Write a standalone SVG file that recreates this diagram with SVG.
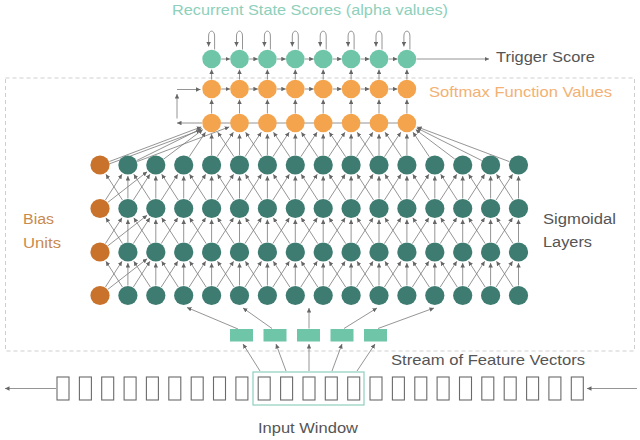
<svg xmlns="http://www.w3.org/2000/svg" xmlns:xlink="http://www.w3.org/1999/xlink" width="640" height="440" viewBox="0 0 640 440">
<style>
.txt{font-family:"Liberation Sans","Noto Sans",Arial,sans-serif}
.sig{fill:#3e7c71}
.bias{fill:#c9722b}
.soft{fill:#f4a44c}
.rec{fill:#6fc5a7}
.feat{fill:#6fc5a7}
.box{fill:none;stroke:#6a6a6a;stroke-width:1.1}
</style>
<defs>
<marker id="ah" viewBox="0 0 6 6" refX="6" refY="3" markerWidth="4.5" markerHeight="4.5" markerUnits="userSpaceOnUse" orient="auto">
<path d="M0,0 L6,3 L0,6 z" fill="#666" stroke="none"/>
</marker>
<line id="v" x1="0" y1="-10" x2="0" y2="-32.5"/>
<line id="dr" x1="5.4" y1="-8.4" x2="22" y2="-34.2"/>
<line id="dl" x1="-5.4" y1="-8.4" x2="-22" y2="-34.2"/>
<line id="vT" x1="0" y1="-10" x2="0" y2="-31"/>
<line id="drT" x1="5.5" y1="-8.3" x2="21.8" y2="-32.8"/>
<line id="dlT" x1="-5.5" y1="-8.3" x2="-21.8" y2="-32.8"/>
<line id="h" x1="9.6" y1="0" x2="18.4" y2="0"/>
<line id="vsa" x1="0" y1="-9.5" x2="0" y2="-23.5"/>
<line id="vsb" x1="0" y1="-9.5" x2="0" y2="-19.5"/>
<path id="loop" d="M3,-9.5 L3,-23 C3,-29.5 -3,-29.5 -3,-23 L-3,-12.5"/>
<g id="gap">
<use href="#dr" x="100"/><use href="#dr" x="127.9"/><use href="#dr" x="155.8"/><use href="#dr" x="183.7"/>
<use href="#dr" x="211.6"/><use href="#dr" x="239.5"/><use href="#dr" x="267.4"/><use href="#dr" x="295.3"/>
<use href="#dr" x="323.2"/><use href="#dr" x="351.1"/><use href="#dr" x="379"/><use href="#dr" x="406.9"/>
<use href="#dr" x="434.8"/><use href="#dr" x="462.7"/><use href="#dr" x="490.6"/>
<use href="#dl" x="127.9"/><use href="#dl" x="155.8"/><use href="#dl" x="183.7"/><use href="#dl" x="211.6"/>
<use href="#dl" x="239.5"/><use href="#dl" x="267.4"/><use href="#dl" x="295.3"/><use href="#dl" x="323.2"/>
<use href="#dl" x="351.1"/><use href="#dl" x="379"/><use href="#dl" x="406.9"/><use href="#dl" x="434.8"/>
<use href="#dl" x="462.7"/><use href="#dl" x="490.6"/><use href="#dl" x="518.5"/>
<use href="#v" x="127.9"/><use href="#v" x="155.8"/><use href="#v" x="183.7"/><use href="#v" x="211.6"/>
<use href="#v" x="239.5"/><use href="#v" x="267.4"/><use href="#v" x="295.3"/><use href="#v" x="323.2"/>
<use href="#v" x="351.1"/><use href="#v" x="379"/><use href="#v" x="406.9"/><use href="#v" x="434.8"/>
<use href="#v" x="462.7"/><use href="#v" x="490.6"/><use href="#v" x="518.5"/>
<line x1="107.9" y1="-6.2" x2="147.1" y2="-36.7"/>
</g>
</defs>

<rect id="frame" x="5.5" y="78" width="629" height="273" fill="none" stroke="#cfcfcf" stroke-width="1" stroke-dasharray="4 3"/>

<g id="connectors" stroke="#7a7a7a" stroke-width="0.8" fill="none" marker-end="url(#ah)">
<!-- sigmoid layer gaps -->
<use href="#gap" y="208.5"/>
<use href="#gap" y="252"/>
<use href="#gap" y="295.5"/>
<!-- sigmoid top to softmax lower -->
<g transform="translate(0,165)">
<use href="#vT" x="211.6"/><use href="#vT" x="239.5"/><use href="#vT" x="267.4"/><use href="#vT" x="295.3"/>
<use href="#vT" x="323.2"/><use href="#vT" x="351.1"/><use href="#vT" x="379"/><use href="#vT" x="406.9"/>
<use href="#drT" x="211.6"/><use href="#drT" x="239.5"/><use href="#drT" x="267.4"/><use href="#drT" x="295.3"/>
<use href="#drT" x="323.2"/><use href="#drT" x="351.1"/><use href="#drT" x="379"/>
<use href="#dlT" x="239.5"/><use href="#dlT" x="267.4"/><use href="#dlT" x="295.3"/><use href="#dlT" x="323.2"/>
<use href="#dlT" x="351.1"/><use href="#dlT" x="379"/><use href="#dlT" x="406.9"/>
</g>
<line x1="109.4" y1="161.5" x2="201.3" y2="126.9"/>
<line x1="109" y1="164" x2="200.6" y2="130"/>
<line x1="136.8" y1="160.5" x2="201.8" y2="128.4"/>
<line x1="137.3" y1="161.5" x2="229.2" y2="126.9"/>
<line x1="163.8" y1="159" x2="202.8" y2="129.6"/>
<line x1="189.2" y1="156.7" x2="205.5" y2="132.2"/>
<line x1="429.3" y1="156.7" x2="413" y2="132.2"/>
<line x1="454.7" y1="159" x2="415.7" y2="129.6"/>
<line x1="481.7" y1="160.5" x2="416.7" y2="127.9"/>
<line x1="509.1" y1="161.5" x2="417.2" y2="126.9"/>
<!-- softmax lower row line (no arrow) -->
<line x1="211.6" y1="123" x2="406.9" y2="123" marker-end="none"/>
<!-- left feedback arrows -->
<line x1="202" y1="123" x2="177" y2="123"/>
<line x1="177" y1="118.5" x2="177" y2="94"/>
<line x1="177" y1="89.5" x2="200.5" y2="89.5"/>
<!-- softmax lower -> upper -->
<g transform="translate(0,123)">
<use href="#vsa" x="211.6"/><use href="#vsa" x="239.5"/><use href="#vsa" x="267.4"/><use href="#vsa" x="295.3"/>
<use href="#vsa" x="323.2"/><use href="#vsa" x="351.1"/><use href="#vsa" x="379"/><use href="#vsa" x="406.9"/>
</g>
<!-- softmax upper -> recurrent -->
<g transform="translate(0,89)">
<use href="#vsb" x="211.6"/><use href="#vsb" x="239.5"/><use href="#vsb" x="267.4"/><use href="#vsb" x="295.3"/>
<use href="#vsb" x="323.2"/><use href="#vsb" x="351.1"/><use href="#vsb" x="379"/><use href="#vsb" x="406.9"/>
<use href="#h" x="211.6"/><use href="#h" x="239.5"/><use href="#h" x="267.4"/><use href="#h" x="295.3"/>
<use href="#h" x="323.2"/><use href="#h" x="351.1"/><use href="#h" x="379"/>
</g>
<!-- recurrent row -->
<g transform="translate(0,59)">
<use href="#h" x="211.6"/><use href="#h" x="239.5"/><use href="#h" x="267.4"/><use href="#h" x="295.3"/>
<use href="#h" x="323.2"/><use href="#h" x="351.1"/><use href="#h" x="379"/>
<use href="#loop" x="211.6"/><use href="#loop" x="239.5"/><use href="#loop" x="267.4"/><use href="#loop" x="295.3"/>
<use href="#loop" x="323.2"/><use href="#loop" x="351.1"/><use href="#loop" x="379"/><use href="#loop" x="406.9"/>
</g>
<line x1="416.5" y1="59" x2="489" y2="59"/>
<!-- feature vectors -> sigmoid bottom -->
<line x1="238" y1="329" x2="187" y2="307.5"/>
<line x1="272" y1="328.5" x2="243" y2="308"/>
<line x1="309" y1="328.5" x2="309" y2="308"/>
<line x1="344" y1="328.5" x2="377" y2="308"/>
<line x1="378" y1="328.5" x2="434" y2="308"/>
<!-- window -> feature vectors -->
<line x1="260" y1="371" x2="243" y2="344"/>
<line x1="286" y1="371" x2="276" y2="344"/>
<line x1="309" y1="371" x2="309" y2="344"/>
<line x1="332" y1="371" x2="342" y2="344"/>
<line x1="357" y1="371" x2="375" y2="344"/>
<!-- stream arrows -->
<line x1="56" y1="388.5" x2="5" y2="388.5"/>
<line x1="637" y1="388.5" x2="587" y2="388.5"/>
</g>

<!-- recurrent state nodes -->
<g id="rec-0"><circle class="rec" cx="211.6" cy="59" r="9.3"/></g>
<g id="rec-1"><circle class="rec" cx="239.5" cy="59" r="9.3"/></g>
<g id="rec-2"><circle class="rec" cx="267.4" cy="59" r="9.3"/></g>
<g id="rec-3"><circle class="rec" cx="295.3" cy="59" r="9.3"/></g>
<g id="rec-4"><circle class="rec" cx="323.2" cy="59" r="9.3"/></g>
<g id="rec-5"><circle class="rec" cx="351.1" cy="59" r="9.3"/></g>
<g id="rec-6"><circle class="rec" cx="379" cy="59" r="9.3"/></g>
<g id="rec-7"><circle class="rec" cx="406.9" cy="59" r="9.3"/></g>

<!-- softmax upper -->
<g id="softU-0"><circle class="soft" cx="211.6" cy="89" r="9.3"/></g>
<g id="softU-1"><circle class="soft" cx="239.5" cy="89" r="9.3"/></g>
<g id="softU-2"><circle class="soft" cx="267.4" cy="89" r="9.3"/></g>
<g id="softU-3"><circle class="soft" cx="295.3" cy="89" r="9.3"/></g>
<g id="softU-4"><circle class="soft" cx="323.2" cy="89" r="9.3"/></g>
<g id="softU-5"><circle class="soft" cx="351.1" cy="89" r="9.3"/></g>
<g id="softU-6"><circle class="soft" cx="379" cy="89" r="9.3"/></g>
<g id="softU-7"><circle class="soft" cx="406.9" cy="89" r="9.3"/></g>

<!-- softmax lower -->
<g id="softL-0"><circle class="soft" cx="211.6" cy="123" r="9.3"/></g>
<g id="softL-1"><circle class="soft" cx="239.5" cy="123" r="9.3"/></g>
<g id="softL-2"><circle class="soft" cx="267.4" cy="123" r="9.3"/></g>
<g id="softL-3"><circle class="soft" cx="295.3" cy="123" r="9.3"/></g>
<g id="softL-4"><circle class="soft" cx="323.2" cy="123" r="9.3"/></g>
<g id="softL-5"><circle class="soft" cx="351.1" cy="123" r="9.3"/></g>
<g id="softL-6"><circle class="soft" cx="379" cy="123" r="9.3"/></g>
<g id="softL-7"><circle class="soft" cx="406.9" cy="123" r="9.3"/></g>

<!-- sigmoid layers: 4 rows x (1 bias + 15 units) -->
<g id="bias-0"><circle class="bias" cx="100" cy="165" r="9.6"/></g>
<g id="bias-1"><circle class="bias" cx="100" cy="208.5" r="9.6"/></g>
<g id="bias-2"><circle class="bias" cx="100" cy="252" r="9.6"/></g>
<g id="bias-3"><circle class="bias" cx="100" cy="295.5" r="9.6"/></g>

<g id="sig-row0">
<g id="s0-1"><circle class="sig" cx="127.9" cy="165" r="9.6"/></g>
<g id="s0-2"><circle class="sig" cx="155.8" cy="165" r="9.6"/></g>
<g id="s0-3"><circle class="sig" cx="183.7" cy="165" r="9.6"/></g>
<g id="s0-4"><circle class="sig" cx="211.6" cy="165" r="9.6"/></g>
<g id="s0-5"><circle class="sig" cx="239.5" cy="165" r="9.6"/></g>
<g id="s0-6"><circle class="sig" cx="267.4" cy="165" r="9.6"/></g>
<g id="s0-7"><circle class="sig" cx="295.3" cy="165" r="9.6"/></g>
<g id="s0-8"><circle class="sig" cx="323.2" cy="165" r="9.6"/></g>
<g id="s0-9"><circle class="sig" cx="351.1" cy="165" r="9.6"/></g>
<g id="s0-10"><circle class="sig" cx="379" cy="165" r="9.6"/></g>
<g id="s0-11"><circle class="sig" cx="406.9" cy="165" r="9.6"/></g>
<g id="s0-12"><circle class="sig" cx="434.8" cy="165" r="9.6"/></g>
<g id="s0-13"><circle class="sig" cx="462.7" cy="165" r="9.6"/></g>
<g id="s0-14"><circle class="sig" cx="490.6" cy="165" r="9.6"/></g>
<g id="s0-15"><circle class="sig" cx="518.5" cy="165" r="9.6"/></g>
</g>
<g id="sig-row1">
<g id="s1-1"><circle class="sig" cx="127.9" cy="208.5" r="9.6"/></g>
<g id="s1-2"><circle class="sig" cx="155.8" cy="208.5" r="9.6"/></g>
<g id="s1-3"><circle class="sig" cx="183.7" cy="208.5" r="9.6"/></g>
<g id="s1-4"><circle class="sig" cx="211.6" cy="208.5" r="9.6"/></g>
<g id="s1-5"><circle class="sig" cx="239.5" cy="208.5" r="9.6"/></g>
<g id="s1-6"><circle class="sig" cx="267.4" cy="208.5" r="9.6"/></g>
<g id="s1-7"><circle class="sig" cx="295.3" cy="208.5" r="9.6"/></g>
<g id="s1-8"><circle class="sig" cx="323.2" cy="208.5" r="9.6"/></g>
<g id="s1-9"><circle class="sig" cx="351.1" cy="208.5" r="9.6"/></g>
<g id="s1-10"><circle class="sig" cx="379" cy="208.5" r="9.6"/></g>
<g id="s1-11"><circle class="sig" cx="406.9" cy="208.5" r="9.6"/></g>
<g id="s1-12"><circle class="sig" cx="434.8" cy="208.5" r="9.6"/></g>
<g id="s1-13"><circle class="sig" cx="462.7" cy="208.5" r="9.6"/></g>
<g id="s1-14"><circle class="sig" cx="490.6" cy="208.5" r="9.6"/></g>
<g id="s1-15"><circle class="sig" cx="518.5" cy="208.5" r="9.6"/></g>
</g>
<g id="sig-row2">
<g id="s2-1"><circle class="sig" cx="127.9" cy="252" r="9.6"/></g>
<g id="s2-2"><circle class="sig" cx="155.8" cy="252" r="9.6"/></g>
<g id="s2-3"><circle class="sig" cx="183.7" cy="252" r="9.6"/></g>
<g id="s2-4"><circle class="sig" cx="211.6" cy="252" r="9.6"/></g>
<g id="s2-5"><circle class="sig" cx="239.5" cy="252" r="9.6"/></g>
<g id="s2-6"><circle class="sig" cx="267.4" cy="252" r="9.6"/></g>
<g id="s2-7"><circle class="sig" cx="295.3" cy="252" r="9.6"/></g>
<g id="s2-8"><circle class="sig" cx="323.2" cy="252" r="9.6"/></g>
<g id="s2-9"><circle class="sig" cx="351.1" cy="252" r="9.6"/></g>
<g id="s2-10"><circle class="sig" cx="379" cy="252" r="9.6"/></g>
<g id="s2-11"><circle class="sig" cx="406.9" cy="252" r="9.6"/></g>
<g id="s2-12"><circle class="sig" cx="434.8" cy="252" r="9.6"/></g>
<g id="s2-13"><circle class="sig" cx="462.7" cy="252" r="9.6"/></g>
<g id="s2-14"><circle class="sig" cx="490.6" cy="252" r="9.6"/></g>
<g id="s2-15"><circle class="sig" cx="518.5" cy="252" r="9.6"/></g>
</g>
<g id="sig-row3">
<g id="s3-1"><circle class="sig" cx="127.9" cy="295.5" r="9.6"/></g>
<g id="s3-2"><circle class="sig" cx="155.8" cy="295.5" r="9.6"/></g>
<g id="s3-3"><circle class="sig" cx="183.7" cy="295.5" r="9.6"/></g>
<g id="s3-4"><circle class="sig" cx="211.6" cy="295.5" r="9.6"/></g>
<g id="s3-5"><circle class="sig" cx="239.5" cy="295.5" r="9.6"/></g>
<g id="s3-6"><circle class="sig" cx="267.4" cy="295.5" r="9.6"/></g>
<g id="s3-7"><circle class="sig" cx="295.3" cy="295.5" r="9.6"/></g>
<g id="s3-8"><circle class="sig" cx="323.2" cy="295.5" r="9.6"/></g>
<g id="s3-9"><circle class="sig" cx="351.1" cy="295.5" r="9.6"/></g>
<g id="s3-10"><circle class="sig" cx="379" cy="295.5" r="9.6"/></g>
<g id="s3-11"><circle class="sig" cx="406.9" cy="295.5" r="9.6"/></g>
<g id="s3-12"><circle class="sig" cx="434.8" cy="295.5" r="9.6"/></g>
<g id="s3-13"><circle class="sig" cx="462.7" cy="295.5" r="9.6"/></g>
<g id="s3-14"><circle class="sig" cx="490.6" cy="295.5" r="9.6"/></g>
<g id="s3-15"><circle class="sig" cx="518.5" cy="295.5" r="9.6"/></g>
</g>

<!-- feature vectors -->
<g id="feat-0"><rect class="feat" x="230" y="329" width="23" height="12.5"/></g>
<g id="feat-1"><rect class="feat" x="263.5" y="329" width="23" height="12.5"/></g>
<g id="feat-2"><rect class="feat" x="297" y="329" width="23" height="12.5"/></g>
<g id="feat-3"><rect class="feat" x="330.5" y="329" width="23" height="12.5"/></g>
<g id="feat-4"><rect class="feat" x="364" y="329" width="23" height="12.5"/></g>

<!-- input window -->
<g id="input-window"><rect x="253" y="372" width="111" height="33" fill="none" stroke="#8fcfbf" stroke-width="1.2"/></g>

<!-- stream boxes -->
<g id="stream">
<g id="b0"><rect class="box" x="57" y="377" width="12" height="23"/></g>
<g id="b1"><rect class="box" x="79.4" y="377" width="12" height="23"/></g>
<g id="b2"><rect class="box" x="101.7" y="377" width="12" height="23"/></g>
<g id="b3"><rect class="box" x="124.1" y="377" width="12" height="23"/></g>
<g id="b4"><rect class="box" x="146.4" y="377" width="12" height="23"/></g>
<g id="b5"><rect class="box" x="168.8" y="377" width="12" height="23"/></g>
<g id="b6"><rect class="box" x="191.2" y="377" width="12" height="23"/></g>
<g id="b7"><rect class="box" x="213.5" y="377" width="12" height="23"/></g>
<g id="b8"><rect class="box" x="235.9" y="377" width="12" height="23"/></g>
<g id="b9"><rect class="box" x="258.2" y="377" width="12" height="23"/></g>
<g id="b10"><rect class="box" x="280.6" y="377" width="12" height="23"/></g>
<g id="b11"><rect class="box" x="303" y="377" width="12" height="23"/></g>
<g id="b12"><rect class="box" x="325.3" y="377" width="12" height="23"/></g>
<g id="b13"><rect class="box" x="347.7" y="377" width="12" height="23"/></g>
<g id="b14"><rect class="box" x="370" y="377" width="12" height="23"/></g>
<g id="b15"><rect class="box" x="392.4" y="377" width="12" height="23"/></g>
<g id="b16"><rect class="box" x="414.8" y="377" width="12" height="23"/></g>
<g id="b17"><rect class="box" x="437.1" y="377" width="12" height="23"/></g>
<g id="b18"><rect class="box" x="459.5" y="377" width="12" height="23"/></g>
<g id="b19"><rect class="box" x="481.8" y="377" width="12" height="23"/></g>
<g id="b20"><rect class="box" x="504.2" y="377" width="12" height="23"/></g>
<g id="b21"><rect class="box" x="526.6" y="377" width="12" height="23"/></g>
<g id="b22"><rect class="box" x="548.9" y="377" width="12" height="23"/></g>
<g id="b23"><rect class="box" x="571.3" y="377" width="12" height="23"/></g>
</g>

<!-- labels -->
<g id="labels" class="txt">
<text x="172" y="15" font-size="15" fill="#8dd0bb" textLength="276" lengthAdjust="spacingAndGlyphs">Recurrent State Scores (alpha values)</text>
<text x="496" y="62" font-size="14.5" fill="#555" textLength="99" lengthAdjust="spacingAndGlyphs">Trigger Score</text>
<text x="429" y="97" font-size="14.5" fill="#f3b173" textLength="183" lengthAdjust="spacingAndGlyphs">Softmax Function Values</text>
<text x="23" y="224" font-size="15.5" fill="#c98a4f" textLength="31" lengthAdjust="spacingAndGlyphs">Bias</text>
<text x="23" y="248" font-size="15.5" fill="#c98a4f" textLength="38" lengthAdjust="spacingAndGlyphs">Units</text>
<text x="543" y="224" font-size="15.5" fill="#555" textLength="73" lengthAdjust="spacingAndGlyphs">Sigmoidal</text>
<text x="543" y="247" font-size="15.5" fill="#555" textLength="49" lengthAdjust="spacingAndGlyphs">Layers</text>
<text x="391" y="365" font-size="15" fill="#555" textLength="194" lengthAdjust="spacingAndGlyphs">Stream of Feature Vectors</text>
<text x="258" y="433" font-size="14.5" fill="#555" textLength="100" lengthAdjust="spacingAndGlyphs">Input Window</text>
</g>
</svg>
